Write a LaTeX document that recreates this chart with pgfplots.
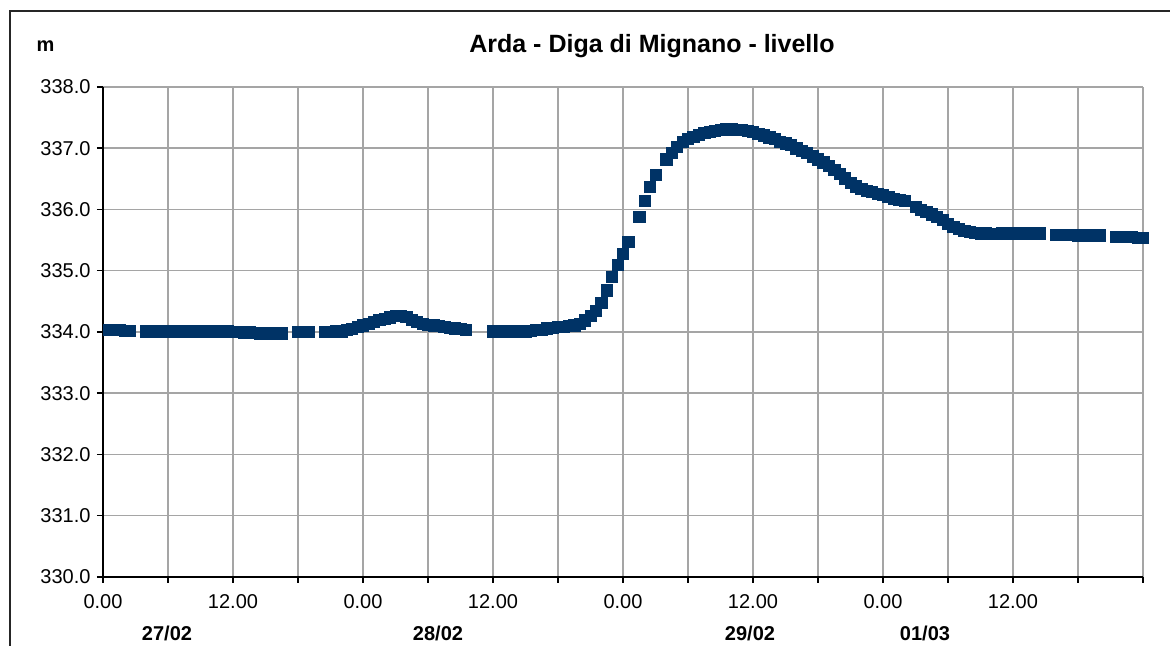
\documentclass[border=0pt]{standalone}
\usepackage{pgfplots}
\pgfplotsset{compat=1.18}
\usepackage{fontspec}
\setmainfont{Liberation Sans}
\definecolor{navy}{RGB}{0,51,102}
\definecolor{gridgray}{RGB}{165,165,165}

\pgfplotstableread{
t v
0.5 334.03
1.0 334.03
1.5 334.03
2.0 334.02
2.5 334.02
4.0 334.01
4.5 334.01
5.0 334.01
5.5 334.01
6.0 334.01
6.5 334.01
7.0 334.01
7.5 334.01
8.0 334.01
8.5 334.01
9.0 334.01
9.5 334.01
10.0 334.01
10.5 334.01
11.0 334.01
11.5 334.01
12.0 334.00
12.5 334.00
13.0 333.99
13.5 334.00
14.0 333.99
14.5 333.98
15.0 333.98
15.5 333.98
16.0 333.98
16.5 333.98
18.0 334.00
18.5 334.00
19.0 334.00
20.5 334.00
21.0 334.00
21.5 334.01
22.0 334.01
22.5 334.03
23.0 334.05
23.5 334.08
24.0 334.11
24.5 334.14
25.0 334.17
25.5 334.20
26.0 334.22
26.5 334.24
27.0 334.26
27.5 334.26
28.0 334.25
28.5 334.20
29.0 334.16
29.5 334.13
30.0 334.12
30.5 334.11
31.0 334.10
31.5 334.09
32.0 334.07
32.5 334.06
33.0 334.05
33.5 334.04
36.0 334.01
36.5 334.01
37.0 334.01
37.5 334.01
38.0 334.01
38.5 334.01
39.0 334.01
39.5 334.02
40.0 334.03
40.5 334.04
41.0 334.06
41.5 334.07
42.0 334.08
42.5 334.09
43.0 334.10
43.5 334.11
44.0 334.14
44.5 334.19
45.0 334.26
45.5 334.35
46.0 334.48
46.5 334.68
47.0 334.90
47.5 335.10
48.0 335.28
48.5 335.47
49.5 335.88
50.0 336.14
50.5 336.37
51.0 336.57
52.0 336.82
52.5 336.93
53.0 337.03
53.5 337.10
54.0 337.15
54.5 337.19
55.0 337.22
55.5 337.25
56.0 337.27
56.5 337.29
57.0 337.30
57.5 337.31
58.0 337.31
59.0 337.30
59.5 337.29
60.0 337.27
60.5 337.24
61.0 337.21
61.5 337.18
62.0 337.15
62.5 337.11
63.0 337.08
63.5 337.05
64.0 337.00
64.5 336.96
65.0 336.92
65.5 336.87
66.0 336.82
66.5 336.77
67.0 336.71
67.5 336.65
68.0 336.58
68.5 336.51
69.0 336.44
69.5 336.38
70.0 336.34
70.5 336.31
71.0 336.29
71.5 336.26
72.0 336.24
72.5 336.21
73.0 336.18
73.5 336.16
74.0 336.14
75.0 336.04
75.5 336.00
76.0 335.96
76.5 335.92
77.0 335.88
77.5 335.83
78.0 335.77
78.5 335.72
79.0 335.68
79.5 335.65
80.0 335.63
80.5 335.62
81.0 335.61
81.5 335.61
82.0 335.60
82.5 335.60
83.0 335.61
83.5 335.61
84.0 335.61
84.5 335.61
85.0 335.61
85.5 335.61
86.0 335.61
86.5 335.61
88.0 335.59
88.5 335.59
89.0 335.59
89.5 335.59
90.0 335.58
90.5 335.58
91.0 335.58
91.5 335.58
92.0 335.58
93.5 335.56
94.0 335.56
94.5 335.55
95.0 335.55
95.5 335.54
96.0 335.54
}\level

\begin{document}
\begin{tikzpicture}
\useasboundingbox (0,0) rectangle (1170bp,646bp);
\clip (0,0) rectangle (1170bp,646bp);
\draw[line width=2bp, black!85] (10bp,-20bp) -- (10bp,635bp) -- (1190bp,635bp);
\begin{axis}[
  at={(103bp,69bp)}, anchor=south west,
  scale only axis, width=1040bp, height=490bp,
  xmin=0, xmax=96, ymin=330, ymax=338,
  xtick={0,6,...,96},
  xticklabels={0.00,,12.00,,0.00,,12.00,,0.00,,12.00,,0.00,,12.00,,},
  ytick={330,331,...,338},
  yticklabels={330.0,331.0,332.0,333.0,334.0,335.0,336.0,337.0,338.0},
  axis x line*=bottom, axis y line*=left,
  axis line style={black, line width=1.5bp},
  tick align=outside, major tick length=6bp,
  tick style={black, line width=1.5bp},
  grid=major,
  major grid style={gridgray, line width=1.5bp},
  ticklabel style={font=\fontsize{20bp}{24bp}\selectfont},
  xticklabel shift=8bp, yticklabel shift=3bp,
  clip=false,
]
\addplot[only marks, mark=square*, mark size=5.6bp,
  mark options={draw=navy, fill=navy, line width=0.6bp}] table[x=t, y=v] {\level};
\end{axis}
\node[anchor=base, font=\bfseries\fontsize{25bp}{30bp}\selectfont] at (652bp,593bp) {Arda - Diga di Mignano - livello};
\node[anchor=base, font=\bfseries\fontsize{20bp}{24bp}\selectfont] at (45.5bp,594bp) {m};
\node[anchor=base, font=\bfseries\fontsize{20bp}{24bp}\selectfont] at (167bp,6bp) {27/02};
\node[anchor=base, font=\bfseries\fontsize{20bp}{24bp}\selectfont] at (438bp,6bp) {28/02};
\node[anchor=base, font=\bfseries\fontsize{20bp}{24bp}\selectfont] at (750bp,6bp) {29/02};
\node[anchor=base, font=\bfseries\fontsize{20bp}{24bp}\selectfont] at (925bp,6bp) {01/03};
\end{tikzpicture}
\end{document}
